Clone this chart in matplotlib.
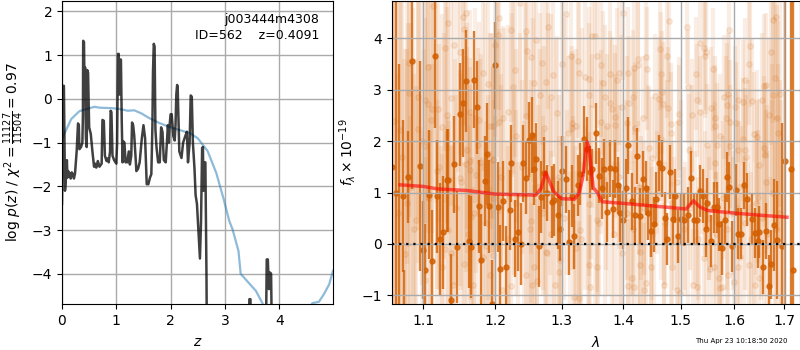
import matplotlib
matplotlib.use('Agg')
import matplotlib.pyplot as plt

# redshift panel
pz_z = [0, .012, .02, .035, .045, .055, .07, .09, .1, .115, .13, .145, .16, .18, .2, .22, .24, .27, .295, .31, .32, .35, .375, .385,
        .39, .405, .415, .425, .44, .455, .465, .48, .5, .53, .56, .59, .61, .63, .66, .69, .73, .745, .77, .79, .82,
        .84, .86, .885, .895, .91, .93, .96, 1.0, 1.015, 1.03, 1.045, 1.055, 1.07, 1.085, 1.1, 1.115, 1.13, 1.15,
        1.17, 1.185, 1.2, 1.23, 1.25, 1.275, 1.29, 1.31, 1.33, 1.37, 1.4, 1.43, 1.47, 1.5, 1.53, 1.56, 1.59, 1.62,
        1.645, 1.665, 1.675, 1.69, 1.705, 1.72, 1.74, 1.77, 1.8, 1.825, 1.85, 1.875, 1.91, 1.95, 1.97, 1.985,
        2.0, 2.02, 2.05, 2.075, 2.09, 2.105, 2.12, 2.13, 2.16, 2.2, 2.23, 2.27, 2.3, 2.32, 2.35, 2.37, 2.39,
        2.41, 2.44, 2.46, 2.485, 2.52, 2.54, 2.56, 2.58, 2.595, 2.605, 2.62, 2.64, 2.66, 2.67, 3.43, 3.45,
        3.47, 3.49, 3.75, 3.77, 3.79, 3.81, 3.83, 3.85, 3.87, 4.99]
pz_log = [-2.4, -1.2, .3, .3, -1.0, -2.1, -1.85, -1.4, -1.8, -1.65, -1.78, -1.7, -1.82, -1.68, -1.72, -1.82, -1.7, -1.2, -.56, -.6, -1.15,
          -1.1, -1.0, -.4, 1.33, 1.3, .2, .72, -.9, -1.1, .66, .6, -.65, -.8, -1.2, -1.55, -1.48, -1.57, -1.42, -1.55,
          -1.48, -.48, -.5, -1.3, -1.42, -1.36, -1.45, -1.2, -.27, -.3, -1.3, -1.4, -1.48, -1, 1.03, 1.03, .1, .9, .9,
          -.5, -1.45, -.97, -1.0, -1.45, -1.38, -1.45, -1.2, -1.5, -1.3, -.54, -.6, -.84, -1.65, -1.6, -1.45, -.9, -.6,
          -.9, -1.95, -1.95, -1.8, -1.72, -.6, .6, 1.26, 1.2, -.7, -1.1, -1.45, -1.45, -.65, -.75, -1.4, -1.45,
          -.6, -1.0, -.55, -.35, -.35, -.85, -.95, -.6, .1, .32, .25, -1.2, -1.35, -1.0, -.85, -.75, -1.45, -1.0,
          .08, .05, -1.0, -1.6, -2.2, -2.4, -3.2, -3.65, -2.8, -1.12, -1.1, -2.1, -1.45, -1.45, -4, -6, -6, -4.58,
          -4.58, -6, -6, -3.67, -3.67, -4.35, -3.97, -4.0, -6, -8]

prior_z = [0, .01, .05, .08, .17, .32, .48, .6, .69, .91, 1.06, 1.21, 1.33, 1.46, 1.61, 1.79, 1.98, 2.16, 2.35,
           2.5, 2.68, 2.84, 2.97, 3.08, 3.14, 3.25, 3.29, 3.57, 3.69, 3.8, 4.2, 4.61, 4.73, 4.82, 4.92, 4.99]
prior_log = [-1.0, -.9, -.78, -.7, -.46, -.28, -.22, -.18, -.2, -.21, -.23, -.27, -.26, -.33, -.44, -.55, -.64,
             -.71, -.78, -.9, -1.19, -1.69, -2.26, -2.79, -2.98, -3.48, -4.0, -4.39, -4.67, -4.95, -5.5, -4.67,
             -4.64, -4.47, -4.24, -3.93]

# binned spectrum
wave = [1.0595, 1.0645, 1.069, 1.0735, 1.0755, 1.08, 1.085, 1.0958, 1.1005, 1.103, 1.1075, 1.1117, 1.1154, 1.1186,
        1.1228, 1.127, 1.1326, 1.134, 1.138, 1.1424, 1.1466, 1.1494, 1.1536, 1.1578, 1.1625, 1.1648, 1.1694,
        1.1732, 1.176, 1.18, 1.1848, 1.1886, 1.1914, 1.1955, 1.2, 1.2045, 1.2074, 1.2119, 1.2163, 1.2208, 1.2233,
        1.2287, 1.2327, 1.2371, 1.2401, 1.2446, 1.249, 1.2535, 1.257, 1.2609, 1.2653, 1.2683, 1.2728, 1.2772,
        1.2847, 1.2881, 1.294, 1.298, 1.301, 1.306, 1.3108, 1.3157, 1.319, 1.3254, 1.3286, 1.3356, 1.3405, 1.3454,
        1.3487, 1.3546, 1.3595, 1.3649, 1.3676, 1.3725, 1.3773, 1.3822, 1.3865, 1.3908, 1.3951, 1.3995, 1.4042,
        1.4088, 1.414, 1.4193, 1.4228, 1.428, 1.4333, 1.4386, 1.4421, 1.4467, 1.452, 1.4555, 1.4614, 1.4667,
        1.4719, 1.4754, 1.4807, 1.486, 1.4906, 1.4947, 1.5, 1.5058, 1.514, 1.5193, 1.524, 1.5297, 1.5352, 1.5408,
        1.5463, 1.5494, 1.5556, 1.5611, 1.5667, 1.571, 1.5759, 1.5815, 1.587, 1.5907, 1.5957, 1.6027, 1.608,
        1.6127, 1.6187, 1.6248, 1.6348, 1.6402, 1.6462, 1.649, 1.6563, 1.6623, 1.6683, 1.6724, 1.6786, 1.6846,
        1.6946, 1.7007, 1.7127, 1.7168]
flux = [1.5, 1.0, -1.4, .94, -1.4, 1.3, 3.56, 1.52, -.12, -.51, .96, -.34, 3.65, .93, .09, .23, 1.24, 1.24, -1.09,
        1.55, -.06, 2.52, 2.74, 3.17, .05, -.06, 3.2, 2.66, .73, -.32, 1.22, 1.75, .73, -1.17, 3.48, .72, -.49, .83,
        -.45, .66, 1.57, .1, .23, 0, 1.57, 1.28, 2.03, 2.12, 1.46, 1.65, -.05, .92, 1.38, .99, .82, .86, .56, .3,
        1.42, 1.26, .03, .93, .15, 1.14, 1.36, 2.04, 1.85, 1.4, 1.45, 2.15, 1.33, 1.08, 1.46, .62, 1.47, .68, 1.46,
        1.14, .6, .47, 1.08, 1.92, .83, .56, 1.71, .54, 1.27, 1.09, .6, .26, .38, .87, 1.58, 1.47, .5, .1, 1.4, .48,
        .93, .15, .48, .47, .56, 1.28, .47, .47, 1.03, .93, .3, .79, .06, .71, .71, .38, -.08, .47, 1.3, 1.1, -.05,
        1.05, .2, .2, 1.14, .87, .49, .21, .05, .23, -.45, .25, -.82, -.4, .37, .08, -.05, 1.61, 1.45, -.51]
flux_err = [6, 6, 4.9, 1.48, .9, .9, 2.5, 2.04, .95, .9, 1.25, 1.0, 1.4, 1.1, 1.1, 1.1, 1.0, 1.0, .9, .95, 1.1, 1.0,
            1.05, 1.0, .9, 1.0, .95, .9, .9, .9, .88, 1.0, .9, .85, .85, .87, .85, .78, .8, .78, .75, .75, .75, .8, .75,
            .7, .73, .74, .7, .7, .78, .7, .7, .55, .7, .7, .66, .63, .68, .65, .63, .6, .63, .6, .6, .65, .63, .5, .4,
            .6, .53, .6, .58, .58, .56, .57, .57, .55, .57, .57, .57, .55, .56, .55, .55, .54, .53, .53, .52, .52, .53,
            .53, .54, .55, .52, .51, .52, .5, .53, .52, .5, .52, .54, .52, .5, .5, .5, .52, .55, .5, .5, .5, .49, .52,
            .52, .5, .49, .5, .5, .5, .5, .49, .46, .52, .5, .49, .51, .5, .52, .55, .6, .68, .9, 1.15, 2.4, 6, 8, 8]

# unbinned pixels, the pale points behind
faint_wave = [1.1135, 1.1578, 1.154, 1.134, 1.1555, 1.13, 1.1424, 1.1494, 1.081, 1.106, 1.182, 1.19, 1.082, 1.093,
              1.102, 1.106, 1.137, 1.112, 1.12, 1.132, 1.164, 1.176, 1.11, 1.126, 1.093, 1.07, 1.193, 1.16, 1.175,
              1.103, 1.164, 1.158, 1.164, 1.196, 1.118, 1.08, 1.172, 1.15, 1.0795, 1.17, 1.166, 1.091, 1.133, 1.187,
              1.196, 1.183, 1.137, 1.126, 1.155, 1.193, 1.14, 1.168, 1.103,
              1.2356, 1.3074, 1.206, 1.2787, 1.2223, 1.2446, 1.2035, 1.2604, 1.2, 1.247, 1.253, 1.3148, 1.3258, 1.2693,
              1.3, 1.2282, 1.2866, 1.3267, 1.3367, 1.3426, 1.2752, 1.2569, 1.2257, 1.2827, 1.2668, 1.3441, 1.2183,
              1.2926, 1.2455, 1.2109, 1.206, 1.196, 1.3168, 1.3233, 1.2728, 1.3168, 1.2297, 1.196, 1.31, 1.253, 1.344,
              1.3292, 1.275, 1.2777, 1.3233, 1.2975, 1.2579, 1.295, 1.2455, 1.2614, 1.2539, 1.2223, 1.21, 1.29, 1.3193,
              1.3267, 1.345, 1.3426,
              1.4, 1.479, 1.511, 1.349, 1.353, 1.4626, 1.3557, 1.476, 1.4252, 1.438, 1.3633, 1.4252, 1.44, 1.4176,
              1.4088, 1.3935, 1.3784, 1.4655, 1.3892, 1.3665, 1.514, 1.4673, 1.4544, 1.4158, 1.3692, 1.4614, 1.3773,
              1.469, 1.4105, 1.3973, 1.3811, 1.4772, 1.4977, 1.52, 1.3865, 1.3622, 1.4339, 1.4965, 1.4837, 1.3854,
              1.373, 1.407, 1.4205, 1.482, 1.4644, 1.516, 1.444, 1.45, 1.3568, 1.397, 1.4293, 1.3568, 1.4293, 1.4468,
              1.485, 1.4146, 1.4088, 1.4176, 1.435, 1.4702, 1.4936, 1.4994, 1.438,
              1.6817, 1.6764, 1.5901, 1.6315, 1.5364, 1.5426, 1.5469, 1.5445, 1.6717, 1.6281, 1.5593, 1.529, 1.6201,
              1.6804, 1.6583, 1.6616, 1.5877, 1.5796, 1.6764, 1.6918, 1.6067, 1.6168, 1.6348, 1.6549, 1.5297, 1.5858,
              1.6013, 1.5562, 1.5364, 1.6683, 1.563, 1.584, 1.592, 1.6027, 1.6851, 1.563, 1.6871, 1.6382, 1.6449,
              1.6181, 1.5735, 1.5673, 1.5482, 1.592, 1.608, 1.6201, 1.6576, 1.6596, 1.6234, 1.5642, 1.6482, 1.6616,
              1.6469, 1.5426, 1.6114, 1.6281, 1.555, 1.5611, 1.5716, 1.5889, 1.6, 1.5765, 1.5234, 1.6415, 1.6482,
              1.5735, 1.608, 1.53,
              1.062, 1.067, 1.072, 1.077, 1.084, 1.088, 1.098, 1.108, 1.121, 1.129, 1.145, 1.152, 1.161, 1.178, 1.186,
              1.198, 1.209, 1.218, 1.231, 1.239, 1.251, 1.263, 1.271, 1.283, 1.296, 1.304, 1.318, 1.331, 1.347, 1.359,
              1.371, 1.384, 1.392, 1.406, 1.416, 1.427, 1.436, 1.449, 1.458, 1.472, 1.484, 1.493, 1.507, 1.518, 1.532,
              1.544, 1.552, 1.565, 1.578, 1.586, 1.597, 1.609, 1.621, 1.633, 1.643, 1.654, 1.664, 1.674, 1.683, 1.69]
faint_flux = [4.63, 4.49, 4.42, 4.3, 4.19, 3.81, 3.88, 3.73, 3.53, 3.44, 3.32, 3.11, 2.94, 2.87, 2.8, 2.72, 2.84, 2.62,
              2.62, 2.51, 2.56, 2.42, 2.42, 2.27, 2.23, 2.21, 2.3, 1.83, 1.92, 1.9, 1.62, 1.55, 1.44, 1.64, 1.42, 1.31,
              1.34, 1.28, .8, .61, .53, .47, .27, -.05, -.21, -.25, -.18, -.44, -.4, -.6, -.8, -.8, -.7,
              4.69, 4.47, 4.4, 4.22, 4.17, 4.15, 4.07, 3.97, 3.88, 3.75, 3.64, 3.65, 3.57, 3.52, 3.5, 3.39, 3.29, 3.32,
              3.25, 3.21, 3.16, 3.14, 3.06, 2.87, 2.9, 2.9, 2.56, 2.55, 2.49, 2.45, 2.38, 2.29, 2.35, 2.3, 2.25, 2.25,
              2.1, 1.65, 2.15, .44, .78, .27, -.15, -.18, -.08, -.31, -.45, -.54, -.6, -.73, -.8, -.82, -.9, -.8, -1.03,
              -1.06, -.83, -.41,
              4.49, 4.35, 4.22, 4.04, 4.04, 3.8, 3.66, 3.65, 3.6, 3.64, 3.48, 3.48, 3.41, 3.42, 3.32, 3.32, 3.31, 3.31,
              3.19, 3.13, 3.06, 2.95, 2.88, 2.87, 2.86, 2.82, 2.75, 2.73, 2.74, 2.67, 2.62, 2.64, 2.53, 2.51, 2.48, 2.38,
              2.45, 2.38, 2.33, 2.31, 2.29, 2.36, 2.25, 2.15, 2.04, 1.82, 1.86, 1.67, .47, -.18, -.15, -.44, -.41, -.44,
              -.44, -.67, -.82, -.83, -.9, -.8, -.9, -.96, -.77,
              4.42, 4.36, 4.17, 3.86, 3.91, 3.81, 3.73, 3.65, 3.73, 3.51, 3.4, 3.31, 3.19, 3.23, 3.08, 3.09, 2.91, 2.86,
              2.9, 2.92, 2.8, 2.77, 2.79, 2.8, 2.8, 2.71, 2.66, 2.64, 2.56, 2.51, 2.46, 2.45, 2.38, 2.35, 2.46, 2.29,
              2.15, 2.14, 2.08, 2.04, 2.1, 1.93, 1.92, 1.9, 1.82, 1.83, 1.86, 1.73, 1.7, 1.57, 1.53, 1.21, .92, -.28,
              -.25, -.42, -.49, -.44, -.66, -.6, -.75, -.83, -.8, -.8, -.67, -.86, -.44, -.83,
              2.4, .6, 1.7, -.2, 1.1, .3, 2.0, .9, 1.5, -.1, .7, 1.2, .2, 1.6, .4, .9, 1.3, .1, .8, 1.5, .3, 1.1, .6, .2,
              1.3, .5, 1.0, .1, 1.2, .4, .9, .2, 1.3, .6, .3, 1.1, .7, .2, 1.0, .4, .8, 1.2, .3, .7, .1, 1.0, .5, .2, .9,
              .3, .6, 1.1, .4, .1, .8, .5, .2, 1.0, .3, .6]
faint_err = [2.6, 2.2, 2.1, 2.5, 2.2, 2.0, 2.4, 2.0, 3.0, 2.6, 1.9, 1.8, 3.0, 2.6, 2.4, 2.5, 2.1, 2.4, 2.2, 2.1, 2.0,
             1.9, 2.4, 2.2, 2.6, 3.2, 1.8, 2.0, 1.9, 2.5, 2.0, 2.1, 2.0, 1.8, 2.3, 3.0, 1.9, 2.1, 3.0, 1.9, 2.0, 2.6,
             2.2, 1.8, 1.8, 1.8, 2.1, 2.2, 2.0, 1.7, 2.1, 1.9, 2.4,
             1.7, 1.5, 1.8, 1.6, 1.8, 1.7, 1.8, 1.6, 1.8, 1.7, 1.7, 1.5, 1.5, 1.6, 1.6, 1.7, 1.6, 1.5, 1.5, 1.4, 1.6,
             1.6, 1.7, 1.6, 1.6, 1.4, 1.7, 1.5, 1.6, 1.8, 1.8, 1.8, 1.5, 1.5, 1.6, 1.5, 1.7, 1.8, 1.5, 1.6, 1.4, 1.5,
             1.6, 1.6, 1.5, 1.6, 1.6, 1.6, 1.6, 1.6, 1.6, 1.7, 1.8, 1.6, 1.5, 1.5, 1.4, 1.4,
             1.3, 1.2, 1.1, 1.4, 1.4, 1.2, 1.4, 1.2, 1.3, 1.2, 1.4, 1.3, 1.2, 1.3, 1.3, 1.4, 1.4, 1.2, 1.4, 1.4, 1.1,
             1.2, 1.2, 1.3, 1.4, 1.2, 1.4, 1.2, 1.3, 1.4, 1.4, 1.2, 1.1, 1.1, 1.4, 1.4, 1.2, 1.1, 1.2, 1.4, 1.4, 1.3,
             1.3, 1.2, 1.2, 1.1, 1.2, 1.2, 1.4, 1.3, 1.3, 1.4, 1.3, 1.2, 1.2, 1.3, 1.3, 1.3, 1.3, 1.2, 1.1, 1.1, 1.3,
             2.0, 2.0, 1.2, 1.2, 1.2, 1.2, 1.2, 1.2, 1.8, 1.2, 1.2, 1.1, 1.2, 2.0, 1.4, 1.4, 1.2, 1.2, 1.9, 2.2, 1.2,
             1.2, 1.2, 1.3, 1.1, 1.2, 1.2, 1.2, 1.1, 1.5, 1.2, 1.2, 1.2, 1.2, 2.2, 1.2, 2.2, 1.2, 1.3, 1.2, 1.2, 1.2,
             1.2, 1.2, 1.2, 1.2, 1.4, 1.4, 1.2, 1.2, 1.3, 1.4, 1.3, 1.2, 1.2, 1.2, 1.2, 1.2, 1.2, 1.2, 1.2, 1.2, 1.1,
             1.3, 1.3, 1.2, 1.2, 1.1,
             7.0, 7.0, 5.0, 4.0, 3.2, 3.0, 2.8, 2.6, 2.4, 2.3, 2.2, 2.1, 2.1, 2.0, 2.0, 1.9, 1.8, 1.8, 1.8, 1.7, 1.7,
             1.6, 1.6, 1.6, 1.6, 1.6, 1.5, 1.5, 1.5, 1.4, 1.4, 1.4, 1.4, 1.3, 1.3, 1.3, 1.3, 1.3, 1.2, 1.2, 1.2, 1.2,
             1.2, 1.2, 1.2, 1.2, 1.2, 1.2, 1.2, 1.2, 1.2, 1.3, 1.3, 1.3, 1.4, 1.5, 1.6, 1.8, 2.2, 2.6]

# more pale bars filling in the wash
wash_wave = [1.0635, 1.066, 1.071, 1.0745, 1.079, 1.0825, 1.0865, 1.09, 1.0945, 1.0985, 1.1015, 1.105, 1.109, 1.1125,
             1.117, 1.119, 1.1235, 1.1275, 1.1305, 1.1355, 1.139, 1.1435, 1.147, 1.151, 1.1565, 1.1595, 1.1635, 1.167,
             1.171, 1.174, 1.179, 1.1815, 1.185, 1.189, 1.1925, 1.1945, 1.199, 1.2025, 1.205, 1.2085, 1.213, 1.217,
             1.2195, 1.2245, 1.227, 1.2335, 1.2365, 1.2415, 1.2435, 1.248, 1.252, 1.2555, 1.2595, 1.2625, 1.267, 1.2705,
             1.2745, 1.279, 1.2825, 1.2875, 1.2915, 1.2955, 1.2995, 1.3035, 1.3085, 1.3125, 1.3175, 1.3215, 1.3275,
             1.3325, 1.3375, 1.3415, 1.3475, 1.3525, 1.3575, 1.3635, 1.3695, 1.3745, 1.3805, 1.3855, 1.3915, 1.3965,
             1.4025, 1.4075, 1.4125, 1.4185, 1.4245, 1.4305, 1.4355, 1.4415, 1.4475, 1.4535, 1.4585, 1.4645, 1.4705,
             1.4765, 1.4825, 1.4885, 1.4945, 1.5015, 1.5075, 1.5135, 1.5205, 1.5265, 1.5335, 1.5395, 1.5465, 1.5525,
             1.5595, 1.5655, 1.5725, 1.5785, 1.5855, 1.5925, 1.5985, 1.6055, 1.6125, 1.6195, 1.6265, 1.6325, 1.6395,
             1.6455, 1.6525, 1.6585, 1.6645, 1.6705, 1.6755, 1.6805, 1.6875, 1.6925]
wash_flux = [2.9, -.3, 1.6, .4, 2.6, -.5, 1.8, .8, 3.1, -.4, 1.3, 2.4, -.2, 1.1, 3.0, .4, -.5, 1.9, 2.8, .2, -.3, 1.4,
             3.2, .7, -.2, 2.3, 1.0, -.4, 2.7, .5, 1.7, -.3, 3.0, .9, -.1, 2.2, .5, 3.2, -.4, 1.4, 2.6, .1, -.3, 2.9,
             1.2, -.2, 2.5, .6, 3.1, -.3, 1.5, 2.8, .2, -.4, 2.2, .8, -.2, 3.0, 1.1, -.4, 2.4, .4, -.3, 2.9, 1.0, -.2,
             2.1, .3, -.4, 2.7, .7, -.3, 2.2, .2, -.5, 1.7, -.2, .5, -.4, 1.9, .1, -.3, 1.4, -.5, .4, 2.1, -.2, .7, -.4,
             1.8, .2, -.3, 1.5, .6, -.5, 2.0, -.1, .4, -.3, 1.6, .3, -.5, 1.9, .5, -.2, 1.4, -.4, .6, 1.8, .1, -.5, 1.2,
             -.2, 1.7, .4, -.4, 1.1, -.1, 1.9, .3, -.4, 1.5, .2, -.3, 1.3, -.1, 2.0, .4, 1.7, .8]
wash_err = [4.5, 3.6, 3.5, 3.2, 3.0, 3.0, 2.8, 2.8, 2.6, 2.6, 2.5, 2.4, 2.4, 2.4, 2.2, 2.4, 2.4, 2.2, 2.0, 2.2, 2.2, 2.2,
            1.8, 2.1, 2.1, 2.0, 2.1, 2.1, 1.9, 2.0, 2.0, 2.0, 1.7, 2.0, 1.9, 1.9, 2.0, 1.5, 1.9, 1.9, 1.6, 1.9, 1.8, 1.6,
            1.8, 1.8, 1.6, 1.8, 1.6, 1.8, 1.7, 1.6, 1.7, 1.7, 1.6, 1.7, 1.7, 1.5, 1.7, 1.7, 1.6, 1.7, 1.6, 1.5, 1.6, 1.6,
            1.6, 1.6, 1.6, 1.5, 1.6, 1.6, 1.5, 1.6, 1.5, 1.5, 1.5, 1.5, 1.4, 1.4, 1.5, 1.4, 1.4, 1.4, 1.4, 1.3, 1.4, 1.4,
            1.3, 1.3, 1.4, 1.3, 1.3, 1.3, 1.3, 1.2, 1.3, 1.3, 1.3, 1.2, 1.3, 1.3, 1.2, 1.3, 1.3, 1.2, 1.3, 1.3, 1.2, 1.3,
            1.3, 1.2, 1.3, 1.2, 1.3, 1.3, 1.2, 1.3, 1.3, 1.3, 1.2, 1.3, 1.3, 1.3, 1.4, 1.4, 1.5, 1.6, 1.8, 2.0]

# line model
model_wave = [1.07, 1.1, 1.12, 1.16, 1.2, 1.23, 1.26, 1.268, 1.275, 1.28, 1.287, 1.295, 1.3, 1.32, 1.328, 1.334, 1.34,
              1.343, 1.35, 1.357, 1.365, 1.4, 1.45, 1.51, 1.5236, 1.535, 1.55, 1.6, 1.65, 1.705]
model_flux = [1.15, 1.12, 1.07, 1.04, .97, .96, .95, 1.08, 1.39, 1.25, 1.03, .93, .88, .87, 1.0, 1.35, 1.99, 1.9, 1.1,
              1.0, .82, .79, .74, .68, .84, .72, .65, .6, .56, .52]

z_ticks = [0, 1, 2, 3, 4]
logp_ticks = [-4, -3, -2, -1, 0, 1, 2]
wave_ticks = [1.1, 1.2, 1.3, 1.4, 1.5, 1.6, 1.7]
flux_ticks = [-1, 0, 1, 2, 3, 4]

ORANGE = '#d35f00'

fig = plt.figure(figsize=(8, 3.5), dpi=100)
ax1 = fig.add_axes([62 / 800, 1 - 304 / 350, 271 / 800, 303 / 350])
ax2 = fig.add_axes([391.5 / 800, 1 - 304 / 350, 408 / 800, 303 / 350])

ax1.plot(prior_z, prior_log, color='#1f77b4', alpha=0.5, lw=1.6)
ax1.plot(pz_z, pz_log, color='k', alpha=0.75, lw=1.8)
ax1.set_xlim(0, 4.99)
ax1.set_ylim(-4.69, 2.24)
ax1.set_xticks(z_ticks)
ax1.set_yticks(logp_ticks)
ax1.set_xlabel(r'$z$', labelpad=5)
ax1.set_ylabel(r'log $p(z)$ / $\chi^2=\frac{11127}{11504}=0.97$', labelpad=4)
ax1.grid(color='#aaaaaa', lw=1)
ax1.text(0.95, 0.96, 'j003444m4308\nID=562    z=0.4091', ha='right', va='top', fontsize=9, linespacing=1.3,
         transform=ax1.transAxes)

ax2.errorbar(faint_wave, faint_flux, yerr=faint_err, fmt='o', color=ORANGE, alpha=0.11, markersize=4, elinewidth=3, zorder=1)
ax2.errorbar(wash_wave, wash_flux, yerr=wash_err, fmt='none', ecolor=ORANGE, alpha=0.1, elinewidth=3, zorder=1)
ax2.errorbar(wave, flux, yerr=flux_err, fmt='o', color=ORANGE, alpha=0.8, markersize=3.6, elinewidth=1.7, zorder=1.2)
ax2.plot([1.059, 1.731], [0, 0], color='k', ls=(0, (1, 2.2)), lw=1.6, zorder=3)
ax2.plot(model_wave, model_flux, color='red', alpha=0.6, lw=2.5, zorder=4)
ax2.set_xscale('log')
ax2.set_xlim(1.059, 1.731)
ax2.set_ylim(-1.17, 4.73)
ax2.set_xticks(wave_ticks)
ax2.set_xticklabels([str(t) for t in wave_ticks])
ax2.set_xticks([], minor=True)
ax2.set_yticks(flux_ticks)
ax2.set_xlabel(r'$\lambda$', labelpad=5)
ax2.set_ylabel(r'$f_\lambda \times 10^{-19}$', labelpad=2)
ax2.grid(color='#aaaaaa', lw=1, zorder=2)

fig.text(0.985, 0.018, 'Thu Apr 23 10:18:50 2020', ha='right', va='bottom', fontsize=5)

fig.savefig('out.png', dpi=100)
